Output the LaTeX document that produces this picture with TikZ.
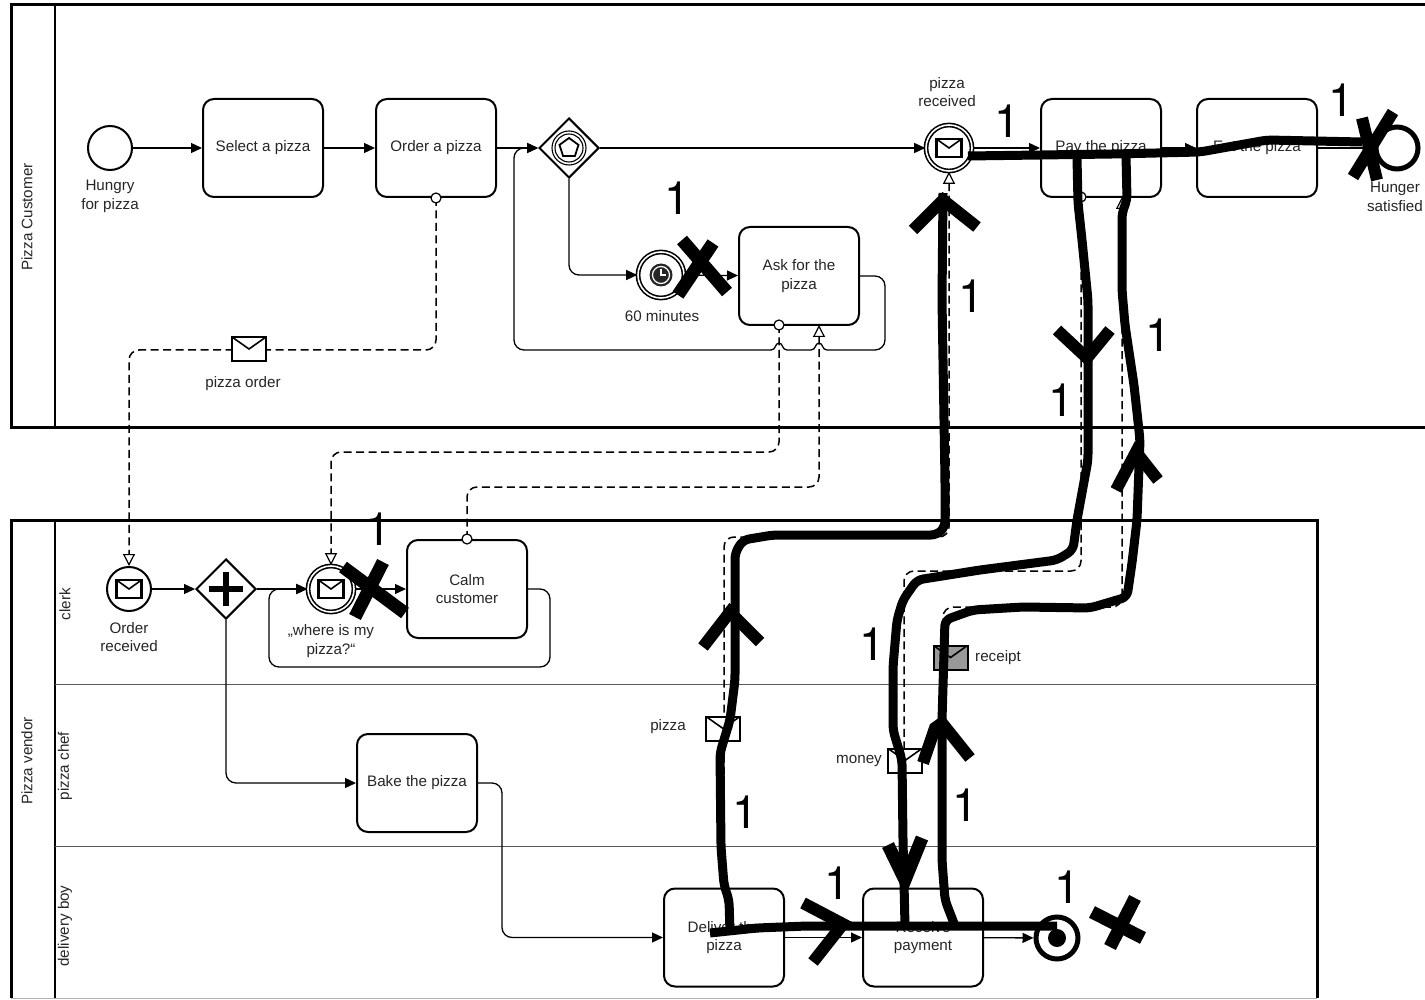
\documentclass[tikz,border=0pt]{standalone}
\usepackage{fontspec}
\setmainfont{Liberation Sans}
\newfontfamily\onefont{TeX Gyre Heros}
\usetikzlibrary{arrows.meta,shapes.geometric,calc}
\tikzset{
  txt/.style={font=\fontsize{15.2}{18.8}\selectfont,align=center,inner sep=0pt,text=black!85,yshift=-1pt},
  task/.style={txt,draw,draw=black,line width=2pt,rounded corners=11pt,minimum width=120pt,minimum height=98pt,yshift=1pt},
  evplain/.style={draw,circle,line width=2pt,minimum size=44pt,inner sep=0pt},
  evdouble/.style={draw,circle,double,double distance=1.6pt,line width=1.6pt,minimum size=46pt,inner sep=0pt},
  evend/.style={draw,circle,line width=5pt,minimum size=42pt,inner sep=0pt},
  gate/.style={draw,diamond,aspect=1,line width=2pt,minimum width=60pt,minimum height=60pt,inner sep=0pt},
  flow/.style={line width=1.3pt,rounded corners=10pt,-{Triangle[length=11pt,width=10pt]}},
  plainflow/.style={line width=1.3pt,rounded corners=10pt},
  msgflow/.style={line width=1.5pt,dash pattern=on 8pt off 4.5pt,rounded corners=10pt,-{Triangle[open,fill=white,length=12pt,width=12pt,line width=1.2pt]}},
  dot/.style={draw,circle,fill=white,line width=1.2pt,minimum size=10pt,inner sep=0pt},
  envel/.style={draw,line width=2pt,rectangle,minimum width=34pt,minimum height=24pt,inner sep=0pt,fill=white,
    path picture={\draw[line width=1.6pt] (path picture bounding box.north west) -- ($(path picture bounding box.north west)!0.5!(path picture bounding box.south east)$) -- (path picture bounding box.north east);}},
  envsmall/.style={envel,line width=2.4pt,minimum width=25pt,minimum height=18pt},
  pool/.style={line width=3pt},
  lane/.style={line width=1pt,draw=black!65},
  sketch/.style={line width=9pt,line cap=butt,line join=round,rounded corners=6pt},
  skmark/.style={line width=12pt,line cap=butt,line join=miter},
  one/.style={font=\onefont\fontsize{46}{46}\selectfont,inner sep=0pt,text=black},
}
\begin{document}
\begin{tikzpicture}[x=1pt,y=-1pt]
\useasboundingbox (0,0) rectangle (1425,1000);
\fill[white] (0,0) rectangle (1425,1000);
% pools
\draw[pool] (1425,5) -- (11,5) -- (11,427) -- (1425,427);
\draw[line width=1.2pt] (55,5) -- (55,427);
\draw[pool] (11,998) -- (11,520) -- (1317,520) -- (1317,998);
\draw[line width=1pt,draw=black!30] (11,998) -- (1317,998);
\draw[line width=1.2pt] (55,520) -- (55,998);
\draw[lane] (55,684) -- (1317,684);
\draw[lane] (55,846) -- (1317,846);
\node[txt,rotate=90] (lpc) at (27,216) {Pizza Customer};
\node[txt,rotate=90] (lpv) at (27,760) {Pizza vendor};
\node[txt,rotate=90] (lcl) at (65,603) {clerk};
\node[txt,rotate=90] (lch) at (65,765) {pizza chef};
\node[txt,rotate=90] (ldb) at (65,925) {delivery boy};
% tasks
\node[task] (select) at (263,148) {Select a pizza};
\node[task] (order) at (436,148) {Order a pizza};
\node[task] (pay) at (1101,148) {Pay the pizza};
\node[task] (eat) at (1257,148) {Eat the pizza};
\node[task] (ask) at (799,276) {Ask for the\\pizza};
\node[task] (calm) at (467,589) {Calm\\customer};
\node[task] (bake) at (417,783) {Bake the pizza};
\node[task] (deliver) at (724,937.5) {Deliver the\\pizza};
\node[task] (receive) at (923,937.5) {Receive\\payment};
% events
\node[evplain] (start) at (110,148) {};
\node[txt] (lhungry) at (110,195) {Hungry\\for pizza};
\node[gate] (evgate) at (569,148) {};
\draw[line width=1.1pt] (evgate.center) circle (17pt) (evgate.center) circle (14pt);
\node[draw,regular polygon,regular polygon sides=5,line width=1.8pt,minimum size=20pt,inner sep=0pt] (penta) at (569,148) {};
\node[evdouble] (timer) at (661,275) {};
\fill[black!85] (661,275) circle (11.5pt);
\draw[white,line width=1.2pt] (661,275) circle (8.5pt);
\draw[white,line width=1.3pt] (661,269) -- (661,275) -- (666,275);
\node[evdouble] (recv) at (949,148) {};
\node[envsmall] (recvenv) at (949,148) {};
\node[txt] (lrecv) at (947,91) {pizza\\received};
\node[txt] (lt60) at (662,315) {60 minutes};
\node[evend] (endc) at (1397,148) {};
\node[txt] (lhs) at (1395,196) {Hunger\\satisfied};
\node[evplain] (orecv) at (129,589) {};
\node[envsmall] (orecvenv) at (129,589) {};
\node[txt] (lorecv) at (129,636) {Order\\received};
\node[gate] (par) at (226,589) {};
\draw[line width=5.5pt] (226,572) -- (226,606) (209,589) -- (243,589);
\node[evdouble] (where) at (331,589) {};
\node[envsmall] (whereenv) at (331,589) {};
\node[txt] (lwhere) at (331,640) {„where is my\\pizza?“};
\node[evend] (endv) at (1057,938) {};
\fill (endv.center) circle (9pt);
% sequence flows
\draw[flow] (start) -- (select);
\draw[flow] (select) -- (order);
\draw[flow] (order) -- (evgate);
\draw[flow] (evgate) -- (recv);
\draw[flow] (recv) -- (pay);
\draw[flow] (pay) -- (eat);
\draw[flow] (eat) -- (endc);
\draw[flow] (evgate.south) -- (569,275) -- (timer);
\draw[flow] (timer) -- (ask);
\draw[plainflow] (ask.east) -- (885,276) -- (885,350) -- (827,350);
\draw[line width=1.3pt] (827,350) .. controls (822,350) and (823,343) .. (819,343) .. controls (815,343) and (816,350) .. (811,350) -- (787,350) .. controls (782,350) and (783,343) .. (779,343) .. controls (775,343) and (776,350) .. (771,350);
\draw[flow] (771,350) -- (514,350) -- (514,148) -- (evgate.west);
\draw[flow] (orecv) -- (par);
\draw[flow] (par) -- (where);
\draw[flow] (where) -- (calm);
\draw[flow] (calm.east) -- (550,589) -- (550,667) -- (269,667) -- (269,589) -- (where.west);
\draw[flow] (par.south) -- (226,783) -- (bake.west);
\draw[flow] (bake.east) -- (502,783) -- (502,937.5) -- (deliver.west);
\draw[flow] (deliver) -- (receive);
\draw[flow] (receive) -- (endv);
% message flows
\draw[msgflow] (order.south) -- (436,350) -- (129,350) -- (orecv.north);
\draw[msgflow] (779,325) -- (779,452) -- (331,452) -- (where.north);
\draw[msgflow] (calm.north) -- (467,487) -- (819,487) -- (819,325);
\draw[msgflow] (deliver.north) -- (724,537) -- (949,537) -- (recv.south);
\draw[msgflow] (1081,197) -- (1081,571) -- (904,571) -- (904,889);
\draw[msgflow] (943,889) -- (943,607) -- (1122,607) -- (1122,197);
\node[dot] (d1) at (order.south) {};
\node[dot] (d2) at (779,325) {};
\node[dot] (d3) at (calm.north) {};
\node[dot] (d5) at (1081,197) {};
% message envelopes
\node[envel] (m1) at (249,349) {};
\node[txt] (lm1) at (243,383) {pizza order};
\node[envel] (m2) at (723,728.5) {};
\node[txt] (lm2) at (668,726) {pizza};
\node[envel] (m3) at (905,760.5) {};
\node[txt] (lm3) at (859,760) {money};
\node[envel,fill=black!40] (m4) at (950.5,657.5) {};
\node[txt,anchor=west] (lm4) at (975,657) {receipt};
% sketch overlay
\draw[sketch] (968,156) -- (1040,155) -- (1113,154) -- (1200,152) -- (1267,140) -- (1362,142);
\draw[sketch] (1077,158) -- (1078,203) -- (1082,240) -- (1088,300) -- (1088,460) -- (1077,520) -- (1073,550) -- (1057,560) -- (980,570) -- (917,580) -- (903,600) -- (897,620) -- (893,667) -- (893,730) -- (902,760) -- (903,840) -- (905,926);
\draw[sketch] (1126,155) -- (1127,200) -- (1122,213) -- (1122,290) -- (1125,325) -- (1134,385) -- (1140,440) -- (1137,520) -- (1132,563) -- (1127,597) -- (1090,608) -- (1023,607) -- (973,610) -- (945,620) -- (942,720) -- (942,860) -- (945,900) -- (955,926);
\draw[sketch] (730,932) -- (729,900) -- (724,885) -- (721,847) -- (720,753) -- (730,720) -- (735,680) -- (735,553) -- (743,540) -- (773,535) -- (937,535) -- (945,527) -- (945,480) -- (942,300) -- (943,193);
\draw[sketch] (710,933) -- (757,928) -- (807,926) -- (1057,926);
% sketch arrowheads
\draw[skmark] (803,903) -- (843,924) -- (813,962);
\draw[skmark,line width=13pt] (888,845) -- (905,880) -- (922,838);
\draw[skmark] (923,763) -- (935,728) -- (942,723) -- (970,758);
\draw[skmark] (703,647) -- (730,612) -- (760,642);
\draw[skmark] (1057,330) -- (1087,358) -- (1110,330);
\draw[skmark] (1116,490) -- (1136,452) -- (1158,480);
\draw[skmark] (913,230) -- (943,200) -- (977,227);
% crosses
\draw[skmark,line width=13pt] (682,240) -- (727,292) (713,243) -- (678,295);
\draw[skmark,line width=12pt] (1362,118) -- (1377,180) (1393,112) -- (1353,177);
\draw[skmark,line width=13pt] (343,567) -- (405,613) (383,562) -- (355,617);
\draw[skmark,line width=13pt] (1092,912) -- (1143,938) (1135,898) -- (1110,947);
% digits
\node[one] (n1) at (677,198) {1};
\node[one] (n2) at (1007,121) {1};
\node[one] (n3) at (1341,100) {1};
\node[one] (n4) at (971,296) {1};
\node[one] (n5) at (1158,335) {1};
\node[one] (n6) at (1061,400) {1};
\node[one] (n7) at (378,529) {1};
\node[one] (n8) at (872,644) {1};
\node[one] (n9) at (745,812) {1};
\node[one] (n10) at (965,805) {1};
\node[one] (n11) at (837,883) {1};
\node[one] (n12) at (1067,887) {1};
\end{tikzpicture}
\end{document}
